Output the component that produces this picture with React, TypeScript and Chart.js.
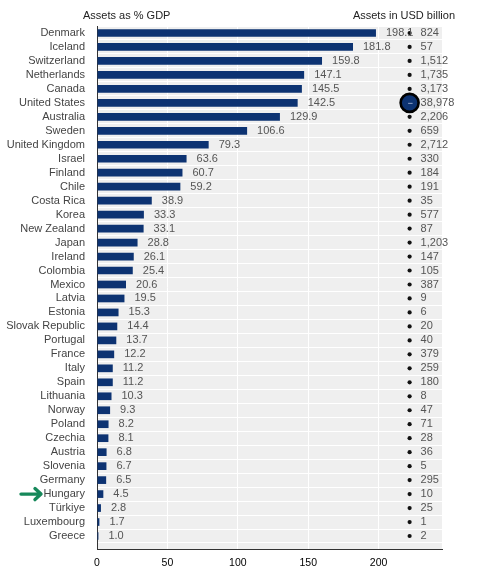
import { useEffect, useRef } from "react";
import { Chart, registerables } from "chart.js";

Chart.register(...registerables);

const COUNTRIES = [
  "Denmark", "Iceland", "Switzerland", "Netherlands", "Canada", "United States",
  "Australia", "Sweden", "United Kingdom", "Israel", "Finland", "Chile",
  "Costa Rica", "Korea", "New Zealand", "Japan", "Ireland", "Colombia",
  "Mexico", "Latvia", "Estonia", "Slovak Republic", "Portugal", "France",
  "Italy", "Spain", "Lithuania", "Norway", "Poland", "Czechia", "Austria",
  "Slovenia", "Germany", "Hungary", "Türkiye", "Luxembourg", "Greece",
];

// Assets as % GDP
const PCT_GDP = [
  198.1, 181.8, 159.8, 147.1, 145.5, 142.5, 129.9, 106.6, 79.3, 63.6, 60.7,
  59.2, 38.9, 33.3, 33.1, 28.8, 26.1, 25.4, 20.6, 19.5, 15.3, 14.4, 13.7,
  12.2, 11.2, 11.2, 10.3, 9.3, 8.2, 8.1, 6.8, 6.7, 6.5, 4.5, 2.8, 1.7, 1.0,
];

// Assets in USD billion
const USD_BN = [
  824, 57, 1512, 1735, 3173, 38978, 2206, 659, 2712, 330, 184, 191, 35, 577,
  87, 1203, 147, 105, 387, 9, 6, 20, 40, 379, 259, 180, 8, 47, 71, 28, 36, 5,
  295, 10, 25, 1, 2,
];

const X_TICKS = [0, 50, 100, 150, 200];
const HIGHLIGHT = "Hungary";

const FONT = "'Liberation Sans Narrow', 'Liberation Sans', Arial, sans-serif";
const NAVY = "#0d3372";
const BUBBLE_X = 222;
const BIG = 10000;

const panelBg = {
  id: "panelBg",
  beforeDraw(chart: Chart) {
    const { ctx, chartArea: a } = chart;
    ctx.save();
    ctx.fillStyle = "#efefef";
    ctx.fillRect(a.left, a.top, a.right - a.left, a.bottom - a.top);
    ctx.restore();
  },
};

const valueLabels = {
  id: "valueLabels",
  afterDatasetsDraw(chart: Chart) {
    const { ctx } = chart;
    ctx.save();
    ctx.font = `11px ${FONT}`;
    ctx.textBaseline = "middle";
    ctx.textAlign = "left";
    ctx.fillStyle = "#555";
    chart.getDatasetMeta(0).data.forEach((bar: any, i) => {
      ctx.fillText(PCT_GDP[i].toFixed(1), bar.x + 10, bar.y);
    });
    chart.getDatasetMeta(1).data.forEach((pt: any, i) => {
      ctx.fillStyle = "#555";
      ctx.fillText(USD_BN[i].toLocaleString("en-US"), pt.x + 11, pt.y);
      if (USD_BN[i] > BIG) {
        // little light dash inside the big bubble
        ctx.strokeStyle = "#8ea3c9";
        ctx.lineWidth = 1;
        ctx.beginPath();
        ctx.moveTo(pt.x - 1.5, pt.y + 0.5);
        ctx.lineTo(pt.x + 3, pt.y + 0.5);
        ctx.stroke();
      }
    });
    ctx.restore();
  },
};

const headers = {
  id: "headers",
  afterDraw(chart: Chart) {
    const { ctx } = chart;
    ctx.save();
    ctx.font = `11px ${FONT}`;
    ctx.fillStyle = "#222";
    ctx.textBaseline = "middle";
    ctx.textAlign = "left";
    ctx.fillText("Assets as % GDP", 83, 16);
    ctx.textAlign = "right";
    ctx.fillText("Assets in USD billion", 455, 16);

    // green arrow pointing at the highlighted country
    const y = chart.scales.y.getPixelForValue(COUNTRIES.indexOf(HIGHLIGHT));
    ctx.strokeStyle = "#16885a";
    ctx.lineWidth = 3.4;
    ctx.lineCap = "round";
    ctx.lineJoin = "round";
    ctx.beginPath();
    ctx.moveTo(21, y);
    ctx.lineTo(40, y);
    ctx.moveTo(35, y - 5.5);
    ctx.lineTo(41, y);
    ctx.lineTo(35, y + 5.5);
    ctx.stroke();
    ctx.restore();
  },
};

export default function App() {
  const canvasRef = useRef<HTMLCanvasElement>(null);
  const chartRef = useRef<Chart | null>(null);

  useEffect(() => {
    if (!canvasRef.current) return;
    if (chartRef.current) chartRef.current.destroy();

    Chart.defaults.font.family = FONT;

    chartRef.current = new Chart(canvasRef.current, {
      type: "bar",
      data: {
        datasets: [
          {
            type: "bar",
            indexAxis: "y",
            data: PCT_GDP.map((v, i) => ({ x: v, y: i })),
            backgroundColor: NAVY,
            barPercentage: 0.55,
            categoryPercentage: 1,
          } as any,
          {
            type: "bubble",
            data: USD_BN.map((v, i) => ({
              x: BUBBLE_X,
              y: i,
              r: v > BIG ? 9 : 2.1,
            })),
            backgroundColor: (c: any) =>
              USD_BN[c.dataIndex] > BIG ? NAVY : "#111",
            borderColor: "#000",
            borderWidth: (c: any) => (USD_BN[c.dataIndex] > BIG ? 2.6 : 0),
            clip: false,
          } as any,
        ],
      },
      options: {
        animation: false,
        responsive: true,
        maintainAspectRatio: false,
        layout: { padding: { top: 26, right: 48, left: 0, bottom: 0 } },
        plugins: {
          legend: { display: false },
          tooltip: { enabled: false },
        },
        scales: {
          x: {
            type: "linear",
            offset: false,
            min: 0,
            max: 245,
            afterBuildTicks: (s: any) => {
              s.ticks = X_TICKS.map((v) => ({ value: v }));
            },
            afterFit: (s: any) => {
              s.height = 25;
            },
            grid: { color: "#ffffff", lineWidth: 1, drawTicks: false, offset: false },
            border: { color: "#333", width: 1 },
            ticks: { color: "#000", font: { size: 10.5 }, padding: 8 },
          },
          y: {
            type: "linear",
            offset: false,
            reverse: true,
            min: -0.5,
            max: COUNTRIES.length - 0.07,
            afterBuildTicks: (s: any) => {
              s.ticks = COUNTRIES.map((_, i) => ({ value: i }));
            },
            afterFit: (s: any) => {
              s.width = 97;
            },
            grid: {
              color: "#ffffff",
              lineWidth: 1,
              drawTicks: false,
              offset: true,
            },
            border: { color: "#333", width: 1 },
            ticks: {
              autoSkip: false,
              color: "#444",
              font: { size: 11 },
              padding: 12,
              callback: (v: any) => COUNTRIES[v as number] ?? "",
            },
          },
        },
      },
      plugins: [panelBg, valueLabels, headers],
    });

    return () => {
      if (chartRef.current) {
        chartRef.current.destroy();
        chartRef.current = null;
      }
    };
  }, []);

  return (
    <div style={{ position: "fixed", left: 0, top: 0, width: 490, height: 574 }}>
      <canvas ref={canvasRef} />
    </div>
  );
}
